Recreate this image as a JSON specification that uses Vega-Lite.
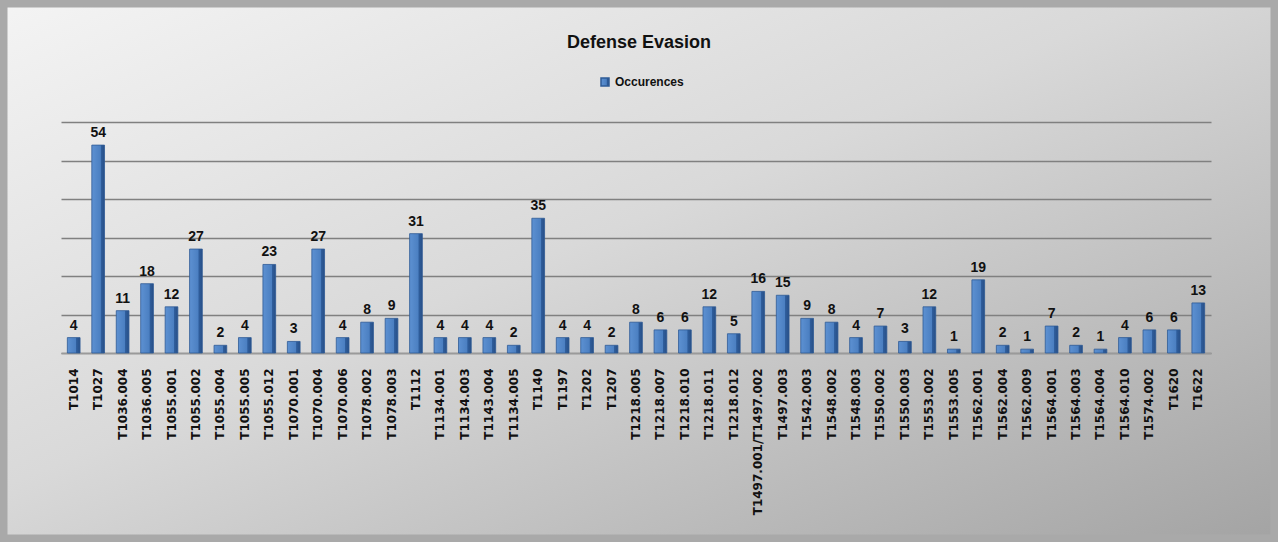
{
  "$schema": "https://vega.github.io/schema/vega-lite/v6.json",
  "width": 1278,
  "height": 542,
  "padding": 0,
  "autosize": {"type": "none"},
  "background": "#c8c8c8",
  "view": {
    "fill": {
      "gradient": "linear",
      "x1": 0, "y1": 0, "x2": 1, "y2": 1,
      "stops": [
        {"offset": 0, "color": "#f4f4f4"},
        {"offset": 0.45, "color": "#d9d9d9"},
        {"offset": 1, "color": "#a3a3a3"}
      ]
    },
    "stroke": "#a9a9a9",
    "strokeWidth": 15
  },
  "title": {
    "text": "Defense Evasion",
    "anchor": "middle",
    "offset": -52,
    "font": "Liberation Sans",
    "fontSize": 18,
    "fontWeight": "bold",
    "color": "#111111"
  },
  "data": {
    "values": [
      {"technique": "T1014", "occurences": 4},
      {"technique": "T1027", "occurences": 54},
      {"technique": "T1036.004", "occurences": 11},
      {"technique": "T1036.005", "occurences": 18},
      {"technique": "T1055.001", "occurences": 12},
      {"technique": "T1055.002", "occurences": 27},
      {"technique": "T1055.004", "occurences": 2},
      {"technique": "T1055.005", "occurences": 4},
      {"technique": "T1055.012", "occurences": 23},
      {"technique": "T1070.001", "occurences": 3},
      {"technique": "T1070.004", "occurences": 27},
      {"technique": "T1070.006", "occurences": 4},
      {"technique": "T1078.002", "occurences": 8},
      {"technique": "T1078.003", "occurences": 9},
      {"technique": "T1112", "occurences": 31},
      {"technique": "T1134.001", "occurences": 4},
      {"technique": "T1134.003", "occurences": 4},
      {"technique": "T1143.004", "occurences": 4},
      {"technique": "T1134.005", "occurences": 2},
      {"technique": "T1140", "occurences": 35},
      {"technique": "T1197", "occurences": 4},
      {"technique": "T1202", "occurences": 4},
      {"technique": "T1207", "occurences": 2},
      {"technique": "T1218.005", "occurences": 8},
      {"technique": "T1218.007", "occurences": 6},
      {"technique": "T1218.010", "occurences": 6},
      {"technique": "T1218.011", "occurences": 12},
      {"technique": "T1218.012", "occurences": 5},
      {"technique": "T1497.001/T1497.002", "occurences": 16},
      {"technique": "T1497.003", "occurences": 15},
      {"technique": "T1542.003", "occurences": 9},
      {"technique": "T1548.002", "occurences": 8},
      {"technique": "T1548.003", "occurences": 4},
      {"technique": "T1550.002", "occurences": 7},
      {"technique": "T1550.003", "occurences": 3},
      {"technique": "T1553.002", "occurences": 12},
      {"technique": "T1553.005", "occurences": 1},
      {"technique": "T1562.001", "occurences": 19},
      {"technique": "T1562.004", "occurences": 2},
      {"technique": "T1562.009", "occurences": 1},
      {"technique": "T1564.001", "occurences": 7},
      {"technique": "T1564.003", "occurences": 2},
      {"technique": "T1564.004", "occurences": 1},
      {"technique": "T1564.010", "occurences": 4},
      {"technique": "T1574.002", "occurences": 6},
      {"technique": "T1620", "occurences": 6},
      {"technique": "T1622", "occurences": 13}
    ]
  },
  "encoding": {
    "x": {
      "field": "technique",
      "type": "nominal",
      "sort": null,
      "scale": {"range": [61, 1211], "paddingInner": 0.48, "paddingOuter": 0.26},
      "axis": {
        "title": null,
        "offset": -189,
        "labelAngle": -90,
        "labelFont": "DejaVu Sans",
        "labelFontSize": 12,
        "labelFontWeight": "bold",
        "labelColor": "#111111",
        "labelPadding": 15,
        "ticks": false,
        "domainColor": "#9a9a9a",
        "domainWidth": 1.5,
        "grid": false,
        "labelOverlap": false
      }
    },
    "y": {
      "field": "occurences",
      "type": "quantitative",
      "scale": {"domain": [0, 60], "range": [353, 122], "nice": false},
      "axis": {
        "title": null,
        "labels": false,
        "ticks": false,
        "domain": false,
        "grid": true,
        "values": [0, 10, 20, 30, 40, 50, 60],
        "gridColor": "#808080",
        "gridWidth": 1.3
      }
    }
  },
  "layer": [
    {
      "mark": {
        "type": "bar",
        "strokeWidth": 0.8,
        "fill": {
          "gradient": "linear",
          "x1": 0, "y1": 0, "x2": 1, "y2": 0,
          "stops": [
            {"offset": 0, "color": "#5d91d2"},
            {"offset": 0.68, "color": "#4b7fc1"},
            {"offset": 0.72, "color": "#2f5e9d"},
            {"offset": 1, "color": "#284f86"}
          ]
        }
      },
      "encoding": {
        "stroke": {
          "datum": "Occurences",
          "scale": {"range": ["#2e5b96"]},
          "legend": {
            "title": null,
            "orient": "none",
            "legendX": 599,
            "legendY": 76,
            "symbolType": "square",
            "symbolSize": 64,
            "labelFont": "Liberation Sans",
            "labelFontSize": 12,
            "labelFontWeight": "bold",
            "labelColor": "#111111",
            "labelOffset": 4,
            "encode": {
              "symbols": {"update": {"fill": {"value": "#4f81bd"}, "stroke": {"value": "#4f81bd"}}}
            }
          }
        }
      }
    },
    {
      "mark": {
        "type": "text",
        "baseline": "alphabetic",
        "dy": -8,
        "font": "Liberation Sans",
        "fontSize": 14,
        "fontWeight": "bold",
        "color": "#111111"
      },
      "encoding": {
        "text": {"field": "occurences", "type": "quantitative"}
      }
    }
  ]
}
